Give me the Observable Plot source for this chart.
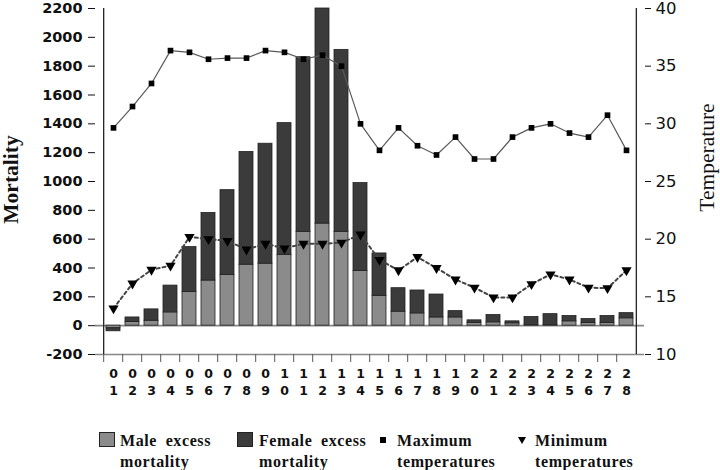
<!DOCTYPE html>
<html><head><meta charset="utf-8">
<script src="https://cdn.jsdelivr.net/npm/d3@7"></script>
<script src="https://cdn.jsdelivr.net/npm/@observablehq/plot@0.6"></script>
<style>
body{margin:0;background:#fff;}
#wrap{position:relative;width:720px;height:470px;overflow:hidden;}
#chart{position:absolute;left:0;top:0;}
.lg{position:absolute;font-family:"Liberation Serif",serif;font-weight:bold;font-size:16px;line-height:21px;color:#111;letter-spacing:0.6px;word-spacing:4px;white-space:nowrap;}
.sw{position:absolute;width:16px;height:15px;border:1px solid #222;box-sizing:border-box;}
</style></head>
<body><div id="wrap"><div id="chart"></div><div id="legend"></div></div>
<script>
const days = ["01","02","03","04","05","06","07","08","09","10","11","12","13","14","15","16","17","18","19","20","21","22","23","24","25","26","27","28"];
const maleExcess   = [-18, 25, 34, 92, 234, 313, 352, 423, 430, 490, 651, 708, 651, 379, 207, 97, 85, 57, 57, 18, 23, 16, 3, 3, 30, 18, 18, 51];
const femaleExcess = [-21, 32, 79, 186, 311, 469, 588, 782, 832, 915, 1211, 1492, 1262, 610, 294, 163, 159, 159, 44, 19, 51, 14, 57, 77, 37, 28, 49, 36];
const maxTemp = [29.65, 31.5, 33.5, 36.35, 36.2, 35.6, 35.7, 35.7, 36.35, 36.2, 35.6, 35.95, 35.0, 30.0, 27.7, 29.65, 28.1, 27.3, 28.85, 26.95, 26.95, 28.85, 29.65, 30.0, 29.2, 28.85, 30.75, 27.7];
const minTemp = [14.0, 16.15, 17.35, 17.7, 20.2, 20.0, 19.85, 19.1, 19.6, 19.2, 19.6, 19.6, 19.7, 20.4, 18.2, 17.3, 18.45, 17.5, 16.5, 15.8, 14.95, 14.95, 16.1, 16.95, 16.5, 15.8, 15.75, 17.3];
const mortalityTicks = [-200, 0, 200, 400, 600, 800, 1000, 1200, 1400, 1600, 1800, 2000, 2200];
const tempTicks = [10, 15, 20, 25, 30, 35, 40];
const seriesLabels = ["Male excess\nmortality", "Female excess\nmortality", "Maximum\ntemperatures", "Minimum\ntemperatures"];

// temperature (10..40) mapped onto the mortality scale (-200..2200)
const tDomain = [10, 40], mDomain = [-200, 2200];
const toM = t => mDomain[0] + (t - tDomain[0]) * (mDomain[1] - mDomain[0]) / (tDomain[1] - tDomain[0]);
const fromM = m => tDomain[0] + (m - mDomain[0]) * (tDomain[1] - tDomain[0]) / (mDomain[1] - mDomain[0]);

const rows = days.flatMap((d, i) => [
  {day: d, sex: "Male", v: maleExcess[i]},
  {day: d, sex: "Female", v: femaleExcess[i]}
]);
const temps = days.map((d, i) => ({day: d, max: toM(maxTemp[i]), min: toM(minTemp[i])}));

const W = 720, H = 420, ML = 95, MR = 76, MT = 8, MB = 66;
const step = (W - ML - MR) / days.length;

const chart = Plot.plot({
  width: W, height: H, marginLeft: ML, marginRight: MR, marginTop: MT, marginBottom: MB,
  style: {fontFamily: "DejaVu Sans", background: "#fff", color: "#111", overflow: "visible"},
  x: {type: "band", domain: days, paddingInner: 0.28, paddingOuter: 0.14},
  y: {domain: mDomain},
  color: {domain: ["Male", "Female"], range: ["#8b8b8b", "#3b3b3b"]},
  marks: [
    Plot.ruleY([mDomain[0]], {stroke: "#888", strokeWidth: 1.6}),
    Plot.ruleY([0], {stroke: "#888", strokeWidth: 1.6}),
    Plot.barY(rows, {x: "day", y: "v", fill: "sex", z: "sex", order: ["Male", "Female"], stroke: "#222", strokeWidth: 0.8}),
    Plot.line(temps, {x: "day", y: "max", stroke: "#5a5a5a", strokeWidth: 1.2}),
    Plot.dot(temps, {x: "day", y: "max", symbol: "square", r: 3.2, fill: "#000"}),
    Plot.line(temps, {x: "day", y: "min", stroke: "#444", strokeWidth: 2, strokeDasharray: "3,3"}),
    Plot.dot(temps, {x: "day", y: "min", symbol: "triangle", rotate: 180, r: 3.8, fill: "#000"}),
    Plot.ruleX([days[0]], {dx: -step / 2, stroke: "#111", strokeWidth: 1.2}),
    Plot.ruleX([days[days.length - 1]], {dx: step / 2, stroke: "#111", strokeWidth: 1.2}),
    Plot.axisY({anchor: "left", ticks: mortalityTicks, tickFormat: d => String(d), tickSize: 7, tickPadding: 6, fontSize: 14.5, fontWeight: "bold", label: null}),
    Plot.axisY({anchor: "right", ticks: tempTicks.map(toM), tickFormat: v => String(Math.round(fromM(v))), tickSize: 6, tickPadding: 5, fontSize: 16.5, label: null}),
    Plot.axisX({tickSize: 8, tickFormat: () => "", dx: -step / 2, label: null, stroke: "#555"}),
    Plot.axisX({tickSize: 0, tickPadding: 11, tickFormat: d => d[0] + "\n" + d[1], lineHeight: 1.4, fontSize: 12.5, fontWeight: "bold", label: null}),
    Plot.text(["Mortality"], {frameAnchor: "left", textAnchor: "middle", rotate: -90, dx: -84, dy: -2, fontFamily: "Liberation Serif", fontSize: 21.5, fontWeight: "bold", fill: "#111"}),
    Plot.text(["Temperature"], {frameAnchor: "right", textAnchor: "middle", rotate: -90, dx: 63, dy: -24, fontFamily: "Liberation Serif", fontSize: 21.5, fill: "#111"})
  ]
});
document.getElementById("chart").append(chart);

// legend
const lg = document.getElementById("legend");
const items = [
  {kind: "swatch", color: "#8b8b8b", mx: 99, tx: 120, label: seriesLabels[0]},
  {kind: "swatch", color: "#3b3b3b", mx: 237, tx: 259, label: seriesLabels[1]},
  {kind: "square", mx: 383, tx: 397, label: seriesLabels[2]},
  {kind: "triangle", mx: 522, tx: 535, label: seriesLabels[3]}
];
const top0 = 430;
for (const it of items) {
  if (it.kind === "swatch") {
    const s = document.createElement("div");
    s.className = "sw";
    s.style.left = it.mx + "px"; s.style.top = (top0 + 2) + "px"; s.style.background = it.color;
    lg.append(s);
  } else {
    const ns = "http://www.w3.org/2000/svg";
    const svg = document.createElementNS(ns, "svg");
    svg.setAttribute("width", 12); svg.setAttribute("height", 12);
    svg.style.position = "absolute";
    svg.style.left = (it.mx - 6) + "px"; svg.style.top = (top0 + 4) + "px";
    const p = document.createElementNS(ns, "path");
    p.setAttribute("d", it.kind === "square" ? "M3,3h6v6h-6z" : "M2,3h8l-4,7z");
    p.setAttribute("fill", "#000");
    svg.append(p);
    lg.append(svg);
  }
  const t = document.createElement("div");
  t.className = "lg";
  t.style.left = it.tx + "px"; t.style.top = top0 + "px";
  t.innerHTML = it.label.split("\n").join("<br>");
  lg.append(t);
}
</script>
</body></html>
